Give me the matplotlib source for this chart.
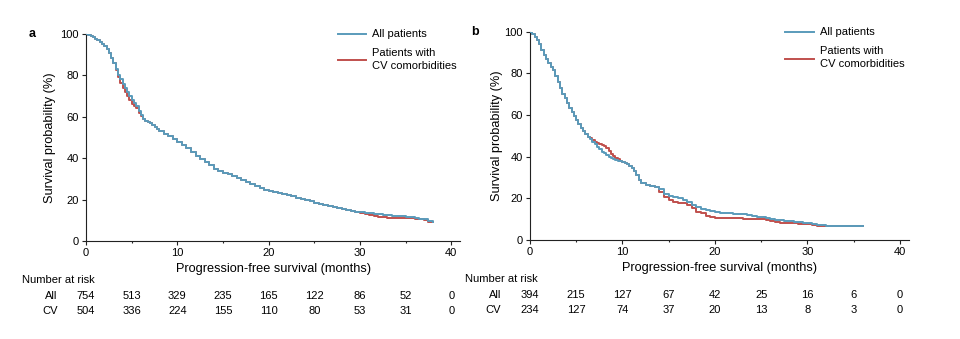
import matplotlib
matplotlib.use("Agg")
import matplotlib.pyplot as plt
from matplotlib.ticker import MultipleLocator

plt.rcParams['font.family'] = ['Liberation Sans', 'DejaVu Sans']

BLUE = '#5a9bbb'
RED = '#c0504d'

# panel a - step knots (months, % progression-free)
a_t = [0, 0.25, 0.5, 0.75, 1, 1.25, 1.5, 1.75, 2, 2.25, 2.5, 2.75, 3, 3.25, 3.5, 3.75,
       4, 4.25, 4.5, 4.75, 5, 5.25, 5.5, 5.75, 6, 6.25, 6.5, 6.75, 7, 7.25, 7.5, 7.75, 8,
       8.5, 9, 9.5, 10, 10.5, 11, 11.5, 12, 12.5, 13, 13.5, 14, 14.5, 15, 15.5, 16, 16.5,
       17, 17.5, 18, 18.5, 19, 19.5, 20, 20.5, 21, 21.5, 22, 22.5, 23, 23.5, 24, 24.5,
       25, 25.5, 26, 26.5, 27, 27.5, 28, 28.5, 29, 29.5, 30, 30.5, 31, 31.5, 32, 32.5,
       33, 33.5, 34, 34.5, 35, 35.5, 36, 36.5, 37, 37.5, 38]
a_all_s = [100, 99.5, 99, 98.5, 97.5, 97, 96, 95, 94, 92.5, 91, 88.5, 86, 83, 80, 78,
           76, 74, 72, 70, 68, 66.5, 65, 63, 61, 59, 58, 57.5, 57, 56, 55, 54, 53,
           51.5, 50.5, 49.5, 48, 46.5, 45, 43, 41, 39.5, 38, 36.5, 35, 34, 33, 32.2, 31.5, 30.5,
           29.5, 28.5, 27.5, 26.5, 25.5, 24.7, 24, 23.5, 23, 22.5, 22, 21.5, 21, 20.5, 20, 19.2,
           18.5, 18, 17.5, 17, 16.5, 16, 15.5, 15, 14.5, 14.2, 13.8, 13.5, 13.3, 13.2, 13, 12.7,
           12.5, 12.2, 12, 11.9, 11.8, 11.5, 11, 10.8, 10.5, 9.5, 9.3]
a_cv_s = [100, 99.5, 99, 98.5, 97.5, 97, 96, 95, 94, 92.5, 91, 88.5, 86, 82.5, 79, 76.5,
          74, 72, 70, 68, 66, 65, 64, 62, 60.5, 59, 58, 57.5, 57, 56, 55, 54, 53,
          51.5, 50.5, 49.5, 48, 46.5, 45, 43, 41, 39.5, 38, 36.5, 35, 34, 33, 32.2, 31.5, 30.5,
          29.5, 28.5, 27.5, 26.5, 25.5, 24.7, 24, 23.5, 23, 22.5, 22, 21.5, 21, 20.5, 20, 19.2,
          18.5, 18, 17.5, 17, 16.5, 16, 15.5, 15, 14.5, 14.2, 13.5, 13, 12.5, 12, 11.5, 11.4,
          11.3, 11.2, 11.2, 11.1, 11, 11, 10.8, 10.5, 10.3, 9.3, 9.0]

# panel b
b_t = [0, 0.25, 0.5, 0.75, 1, 1.25, 1.5, 1.75, 2, 2.25, 2.5, 2.75, 3, 3.25, 3.5, 3.75,
       4, 4.25, 4.5, 4.75, 5, 5.25, 5.5, 5.75, 6, 6.25, 6.5, 6.75, 7, 7.25, 7.5, 7.75,
       8, 8.25, 8.5, 8.75, 9, 9.25, 9.5, 9.75, 10, 10.25, 10.5, 10.75, 11, 11.25, 11.5, 11.75, 12,
       12.5, 13, 13.5, 14, 14.5, 15, 15.5, 16, 16.5, 17, 17.5, 18, 18.5, 19, 19.5, 20,
       20.5, 21, 21.5, 22, 22.5, 23, 23.5, 24, 24.5, 25, 25.5, 26, 26.5, 27, 27.5, 28,
       28.5, 29, 29.5, 30, 30.5, 31, 31.5, 32, 32.5, 33, 33.5, 34, 34.5, 35, 35.5, 36]
b_all_s = [100, 99, 97.5, 96, 94, 91.5, 89, 87, 85, 83, 81.5, 79, 76, 73, 70, 68,
           66, 63.5, 61.5, 59.5, 57.5, 55.5, 54, 52.5, 51, 49.5, 48.5, 47, 46, 44.5, 43.5, 42.5,
           42, 41, 40, 39.5, 39, 38.5, 38, 37.8, 37.5, 37, 36.5, 35.5, 34.5, 33, 31, 29, 27.5,
           26.5, 26, 25.5, 24.5, 22, 21, 20.7, 20, 19.2, 18.5, 17, 16, 15, 14.5, 13.8, 13.5,
           13.2, 13, 12.8, 12.7, 12.5, 12.3, 12, 11.5, 11.2, 11, 10.5, 10, 9.8, 9.5, 9.2, 9,
           8.8, 8.5, 8.4, 8.2, 7.8, 7.2, 7, 6.9, 6.8, 6.7, 6.7, 6.7, 6.7, 6.7, 6.7, 6.7]
b_cv_s = [100, 99, 97.5, 96, 94, 91.5, 89, 87, 85, 83, 81.5, 79, 76, 73, 70, 68,
          66, 63.5, 61.5, 59.5, 57.5, 55.5, 54, 52.5, 51, 49.5, 49, 48, 47, 46.5, 46, 45.5,
          45, 44, 43, 41.5, 40.5, 39.5, 39, 38, 37.5, 37, 36.5, 35.5, 34.5, 33, 31, 29, 27.5,
          26.5, 26, 25.5, 23, 20.5, 19, 18.5, 18, 17.6, 17, 15.5, 13.5, 12.8, 11.5, 10.9, 10.5,
          10.5, 10.5, 10.4, 10.4, 10.4, 10.3, 10.2, 10, 10, 10, 9.5, 9, 8.5, 8.4, 8.3, 8.3,
          8, 7.5, 7.5, 7.5, 7, 6.8, 6.7, 6.7, 6.7, 6.7, 6.7, 6.7, 6.7, 6.7, 6.7, 6.7]

risk_times = [0, 5, 10, 15, 20, 25, 30, 35, 40]
a_risk_all = [754, 513, 329, 235, 165, 122, 86, 52, 0]
a_risk_cv = [504, 336, 224, 155, 110, 80, 53, 31, 0]
b_risk_all = [394, 215, 127, 67, 42, 25, 16, 6, 0]
b_risk_cv = [234, 127, 74, 37, 20, 13, 8, 3, 0]

FS = 8

fig = plt.figure(figsize=(9.6, 3.39), dpi=100)
ax_a = fig.add_axes([0.0896, 0.289, 0.390, 0.611])
ax_b = fig.add_axes([0.552, 0.292, 0.395, 0.614])


def draw_panel(ax, t, all_s, cv_s, risk_all, risk_cv, letter, ylab_x):
    ax.step(t, cv_s, where='post', color=RED, lw=1.4, zorder=2)
    ax.step(t, all_s, where='post', color=BLUE, lw=1.4, zorder=3)
    ax.set_xlim(0, 41)
    ax.set_ylim(0, 100)
    for s in ['top', 'right']:
        ax.spines[s].set_visible(False)
    for s in ['left', 'bottom']:
        ax.spines[s].set_linewidth(0.8)
        ax.spines[s].set_color('#222222')
    ax.set_xticks([0, 10, 20, 30, 40])
    ax.set_yticks([0, 20, 40, 60, 80, 100])
    ax.xaxis.set_minor_locator(MultipleLocator(5))
    ax.tick_params(axis='both', which='major', direction='out', length=3, width=0.8,
                   labelsize=FS, pad=2, color='#222222')
    ax.tick_params(axis='x', which='minor', direction='out', length=1.5, width=0.8,
                   color='#222222')
    ax.set_xlabel('Progression-free survival (months)', fontsize=9.2, va='top')
    ax.xaxis.set_label_coords(0.5, -0.105)
    ax.set_ylabel('Survival probability (%)', fontsize=9.2, va='center')
    ax.yaxis.set_label_coords(ylab_x, 0.5)

    # number at risk table
    tr = ax.get_xaxis_transform()
    ax.text(-7.0, -0.188, 'Number at risk', transform=tr, fontsize=FS,
            ha='left', va='center', clip_on=False)
    ax.text(-3.1, -0.266, 'All', transform=tr, fontsize=FS, ha='right', va='center')
    ax.text(-3.1, -0.338, 'CV', transform=tr, fontsize=FS, ha='right', va='center')
    for x, n1, n2 in zip(risk_times, risk_all, risk_cv):
        ax.text(x, -0.266, str(n1), transform=tr, fontsize=FS, ha='center', va='center')
        ax.text(x, -0.338, str(n2), transform=tr, fontsize=FS, ha='center', va='center')

    # legend
    ax.plot([0.673, 0.748], [1.0, 1.0], transform=ax.transAxes, color=BLUE,
            lw=1.4, clip_on=False)
    ax.plot([0.673, 0.748], [0.872, 0.872], transform=ax.transAxes, color=RED,
            lw=1.4, clip_on=False)
    ax.text(0.765, 1.0, 'All patients', transform=ax.transAxes, fontsize=FS,
            ha='left', va='center')
    ax.text(0.765, 0.877, 'Patients with\nCV comorbidities', transform=ax.transAxes,
            fontsize=FS, ha='left', va='center', linespacing=1.3)

    ax.text(-0.145, 1.0, letter, transform=ax.transAxes, fontsize=FS + 1,
            fontweight='bold', ha='center', va='center')


draw_panel(ax_a, a_t, a_all_s, a_cv_s, a_risk_all, a_risk_cv, 'a', -0.096)
draw_panel(ax_b, b_t, b_all_s, b_cv_s, b_risk_all, b_risk_cv, 'b', -0.087)

fig.savefig('out.png', dpi=100)
